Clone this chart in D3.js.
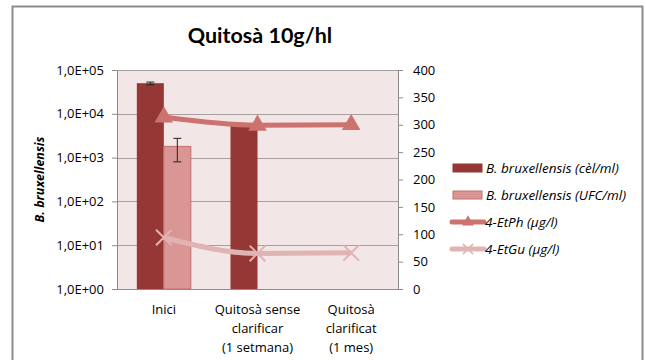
<!DOCTYPE html>
<html>
<head>
<script src="https://cdn.jsdelivr.net/npm/d3@7"></script>
<style>
  body { margin: 0; background: white; }
  svg { display: block; }
  text { font-family: "Open Sans", sans-serif; fill: #000; }
</style>
</head>
<body>
<div id="chart"></div>
<script>
const categories = [["Inici"], ["Quitosà sense", "clarificar", "(1 setmana)"], ["Quitosà", "clarificat", "(1 mes)"]]
const cellsPerMl = [50000, 6000, null]
const cellsErr = [[46000, 53000], null, null]
const ufcPerMl = [1800, null, null]
const ufcErr = [[800, 2750], null, null]
const etPh = [314, 299, 300]
const etGu = [94, 65, 66]
const leftTicks = [1, 10, 100, 1000, 10000, 100000]
const rightTicks = [0, 50, 100, 150, 200, 250, 300, 350, 400]

const W = 646, H = 360
const m = { left: 117, right: 398, top: 70, bottom: 289 }
const font = '"Open Sans", sans-serif'

const svg = d3.select('#chart').append('svg').attr('width', W).attr('height', H)

// outer frame (no bottom edge visible)
svg.append('path')
    .attr('d', `M12.5,${H} V6.5 H642.5 V${H}`)
    .attr('fill', 'none').attr('stroke', '#8c8c8c').attr('stroke-width', 2)

svg.append('text')
    .attr('x', 260).attr('y', 43)
    .attr('text-anchor', 'middle')
    .style('font-family', 'Lato, sans-serif')
    .style('font-size', '21.5px').style('font-weight', 'bold')
    .text('Quitosà 10g/hl')

const x = d3.scaleBand().domain(d3.range(categories.length)).range([m.left, m.right])
const yL = d3.scaleLog().domain([1, 100000]).range([m.bottom, m.top])
const yR = d3.scaleLinear().domain([0, 400]).range([m.bottom, m.top])

// plot background
svg.append('rect')
    .attr('x', m.left).attr('y', m.top)
    .attr('width', m.right - m.left).attr('height', m.bottom - m.top)
    .attr('fill', '#f2e6e6')

// gridlines
svg.append('g').selectAll('line').data(leftTicks.slice(1)).join('line')
    .attr('x1', m.left).attr('x2', m.right)
    .attr('y1', d => Math.round(yL(d)) + 0.5).attr('y2', d => Math.round(yL(d)) + 0.5)
    .attr('stroke', '#a6a0a0').attr('stroke-width', 1)

// bars
const bw = 27
const barX = (i, k) => x(i) + x.bandwidth() / 2 - bw + k * bw
const bars = [
    { vals: cellsPerMl, fill: '#953735', stroke: 'none', k: 0, err: cellsErr },
    { vals: ufcPerMl, fill: '#d99694', stroke: '#c4706d', k: 1, err: ufcErr }
]
bars.forEach(s => {
    const g = svg.append('g')
    g.selectAll('rect').data(s.vals.map((v, i) => ({ v, i })).filter(d => d.v)).join('rect')
        .attr('x', d => barX(d.i, s.k))
        .attr('y', d => yL(d.v))
        .attr('width', bw)
        .attr('height', d => m.bottom - yL(d.v))
        .attr('fill', s.fill)
        .attr('stroke', s.stroke)
    const e = s.err.map((v, i) => ({ v, i })).filter(d => d.v)
    const eg = g.selectAll('g').data(e).join('g')
        .attr('stroke', '#222').attr('stroke-width', 1)
    eg.append('line')
        .attr('x1', d => barX(d.i, s.k) + bw / 2).attr('x2', d => barX(d.i, s.k) + bw / 2)
        .attr('y1', d => yL(d.v[0])).attr('y2', d => yL(d.v[1]))
    eg.append('line')
        .attr('x1', d => barX(d.i, s.k) + bw / 2 - 4).attr('x2', d => barX(d.i, s.k) + bw / 2 + 4)
        .attr('y1', d => yL(d.v[0])).attr('y2', d => yL(d.v[0]))
    eg.append('line')
        .attr('x1', d => barX(d.i, s.k) + bw / 2 - 4).attr('x2', d => barX(d.i, s.k) + bw / 2 + 4)
        .attr('y1', d => yL(d.v[1])).attr('y2', d => yL(d.v[1]))
})

// lines
const cx = i => x(i) + x.bandwidth() / 2
const line = d3.line().x((d, i) => cx(i)).y(d => yR(d)).curve(d3.curveMonotoneX)
const tri = d3.symbol().type(d3.symbolTriangle).size(150)
const cross = d3.symbol().type(d3.symbolX).size(160)

svg.append('path').datum(etPh).attr('d', line)
    .attr('fill', 'none').attr('stroke', '#cc7370').attr('stroke-width', 5)
svg.append('g').selectAll('path').data(etPh).join('path')
    .attr('d', tri).attr('transform', (d, i) => `translate(${cx(i)},${yR(d)})`)
    .attr('fill', '#cc7370')

svg.append('path').datum(etGu).attr('d', line)
    .attr('fill', 'none').attr('stroke', '#e0b4b3').attr('stroke-width', 5)
svg.append('g').selectAll('path').data(etGu).join('path')
    .attr('d', cross).attr('transform', (d, i) => `translate(${cx(i)},${yR(d)})`)
    .attr('fill', 'none').attr('stroke', '#e0b4b3').attr('stroke-width', 2)

// axes
const axL = svg.append('g').attr('transform', `translate(${m.left},0)`)
    .call(d3.axisLeft(yL).tickValues(leftTicks).tickSize(5).tickPadding(8)
        .tickFormat(d => '1,0E+' + String(Math.round(Math.log10(d))).padStart(2, '0')))
const axR = svg.append('g').attr('transform', `translate(${m.right},0)`)
    .call(d3.axisRight(yR).tickValues(rightTicks).tickSize(5).tickPadding(10))
const axB = svg.append('g').attr('transform', `translate(0,${m.bottom})`)
    .call(d3.axisBottom(x).tickSize(0).tickFormat(''))
;[axL, axR, axB].forEach(a => {
    a.select('.domain').attr('stroke', '#8c8c8c')
    a.selectAll('.tick line').attr('stroke', '#8c8c8c')
    a.selectAll('text').style('font-size', '13px').style('font-family', font)
})
axB.select('.domain').attr('d', `M${m.left - 5},0.5H${m.right + 5}`)

// category labels
svg.append('g').selectAll('text').data(categories).join('text')
    .attr('text-anchor', 'middle')
    .style('font-size', '13px')
    .attr('transform', (d, i) => `translate(${x(i) + x.bandwidth() / 2},314)`)
    .selectAll('tspan').data(d => d).join('tspan')
    .attr('x', 0).attr('y', (d, j) => j * 19)
    .text(d => d)

svg.append('text')
    .attr('transform', `translate(44,${(m.top + m.bottom) / 2}) rotate(-90)`)
    .attr('text-anchor', 'middle')
    .style('font-size', '12.5px').style('font-weight', 'bold').style('font-style', 'italic')
    .text('B. bruxellensis')

// legend
const legend = [
    { label: 'B. bruxellensis (cèl/ml)', type: 'bar', fill: '#953735', stroke: '#953735' },
    { label: 'B. bruxellensis (UFC/ml)', type: 'bar', fill: '#d99694', stroke: '#c4706d' },
    { label: '4-EtPh (µg/l)', type: 'tri', color: '#cc7370' },
    { label: '4-EtGu (µg/l)', type: 'cross', color: '#e0b4b3' }
]
const lg = svg.append('g').selectAll('g').data(legend).join('g')
    .attr('transform', (d, i) => `translate(452,${168 + i * 27})`)
lg.filter(d => d.type === 'bar').append('rect')
    .attr('x', 1).attr('y', -4).attr('width', 29).attr('height', 8)
    .attr('fill', d => d.fill).attr('stroke', d => d.stroke)
lg.filter(d => d.type !== 'bar').append('line')
    .attr('x1', 0).attr('x2', 32).attr('y1', 0).attr('y2', 0)
    .attr('stroke', d => d.color).attr('stroke-width', 5).attr('stroke-linecap', 'round')
lg.filter(d => d.type === 'tri').append('path')
    .attr('d', d3.symbol().type(d3.symbolTriangle).size(60)).attr('transform', 'translate(16,0)')
    .attr('fill', d => d.color)
lg.filter(d => d.type === 'cross').append('path')
    .attr('d', d3.symbol().type(d3.symbolX).size(70)).attr('transform', 'translate(16,0)')
    .attr('fill', 'none').attr('stroke', d => d.color).attr('stroke-width', 1.5)
lg.append('text')
    .attr('x', d => d.type === 'bar' ? 34 : 33).attr('y', 4.5)
    .style('font-size', '13.5px').style('font-style', 'italic')
    .text(d => d.label)
</script>
</body>
</html>
